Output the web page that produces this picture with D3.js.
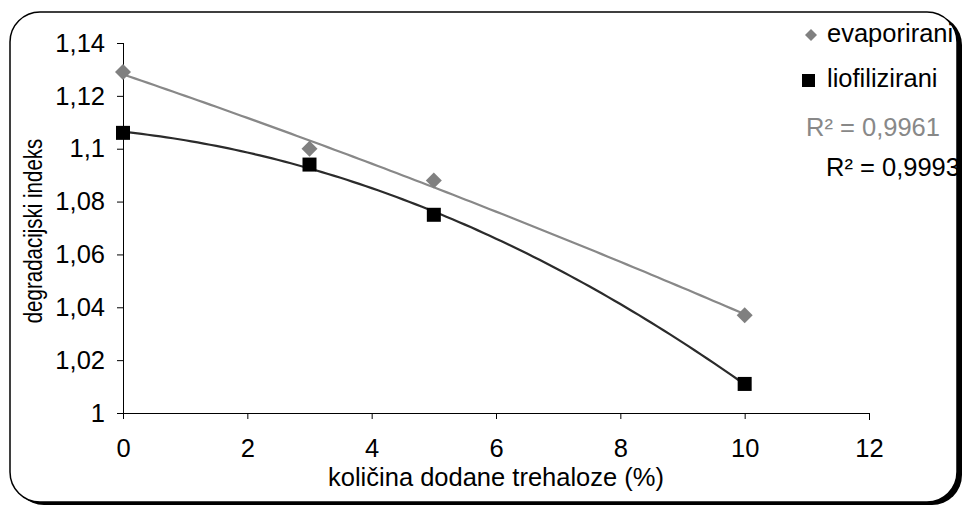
<!DOCTYPE html>
<html><head><meta charset="utf-8">
<script src="https://cdn.jsdelivr.net/npm/d3@7"></script>
<style>body{margin:0;background:#fff}svg{display:block;font-family:"Liberation Sans",Arial,sans-serif}</style>
</head><body>
<svg id="c" width="965" height="506"></svg>
<script>
const xValues = [0, 3, 5, 10];
const evaporirani = [1.129, 1.100, 1.088, 1.037];
const liofilizirani = [1.106, 1.094, 1.075, 1.011];
const xTicks = [0, 2, 4, 6, 8, 10, 12];
const yTicks = [1, 1.02, 1.04, 1.06, 1.08, 1.1, 1.12, 1.14];
const seriesNames = ["evaporirani", "liofilizirani"];
const r2Labels = ["R\u00B2 = 0,9961", "R\u00B2 = 0,9993"];

const FS = 25.5;
const svg = d3.select("#c");
// frame with shadow
svg.append("rect").attr("x",14).attr("y",15).attr("width",948).attr("height",490).attr("rx",30).attr("fill","#000");
svg.append("rect").attr("x",10).attr("y",12).attr("width",947).attr("height",490).attr("rx",30)
  .attr("fill","#fff").attr("stroke","#000").attr("stroke-width",1.5);

const x = d3.scaleLinear().domain([0,12]).range([123,869]);
const y = d3.scaleLinear().domain([1,1.14]).range([413,43]);
const fmt = d => String(+d.toFixed(2)).replace(".", ",");

const gx = svg.append("g").attr("transform","translate(0,413)")
  .call(d3.axisBottom(x).tickValues(xTicks).tickSize(6).tickSizeOuter(6).tickPadding(20).tickFormat(d=>d));
const gy = svg.append("g").attr("transform","translate(123,0)")
  .call(d3.axisLeft(y).tickValues(yTicks).tickSize(6).tickSizeOuter(0).tickPadding(12).tickFormat(fmt));
[gx,gy].forEach(g=>{
  g.attr("font-size",FS).attr("font-family",null);
  g.selectAll("path,line").attr("stroke","#000").attr("stroke-width",1);
  g.selectAll("text").attr("fill","#000");
});
gy.select(".domain").attr("d","M0.5,43V413.5");
gx.select(".domain").attr("d","M117,0.5H869.5V7");

svg.append("text").attr("x",496).attr("y",486).attr("text-anchor","middle").attr("font-size",FS)
  .text("količina dodane trehaloze (%)");
svg.append("text").attr("transform","translate(42,231) rotate(-90) scale(0.82,1)").attr("text-anchor","middle")
  .attr("font-size",25).text("degradacijski indeks");

// quadratic least squares trendline
function quadFit(xs, ys){
  let S=[0,0,0,0,0], T=[0,0,0];
  xs.forEach((xv,i)=>{ for(let k=0;k<5;k++) S[k]+=Math.pow(xv,k); for(let k=0;k<3;k++) T[k]+=ys[i]*Math.pow(xv,k); });
  const A=[[S[0],S[1],S[2],T[0]],[S[1],S[2],S[3],T[1]],[S[2],S[3],S[4],T[2]]];
  for(let i=0;i<3;i++){ for(let j=i+1;j<3;j++){ const f=A[j][i]/A[i][i]; for(let k=i;k<4;k++) A[j][k]-=f*A[i][k]; } }
  const c=[0,0,0];
  for(let i=2;i>=0;i--){ let s=A[i][3]; for(let k=i+1;k<3;k++) s-=A[i][k]*c[k]; c[i]=s/A[i][i]; }
  return xv=>c[0]+c[1]*xv+c[2]*xv*xv;
}
const samples = d3.range(0,10.001,0.1);
const line = d3.line().x(d=>x(d[0])).y(d=>y(d[1]));
const colors = ["#808080","#000000"];
const lineColors = ["#888888","#2b2b2b"];
[evaporirani, liofilizirani].forEach((vals,si)=>{
  const f = quadFit(xValues, vals);
  svg.append("path").attr("d", line(samples.map(s=>[s,f(s)]))).attr("fill","none")
    .attr("stroke",lineColors[si]).attr("stroke-width",2.2);
});
// markers
const diamond = d3.symbol().type(d3.symbolSquare).size(128);
svg.append("g").selectAll("path").data(xValues).join("path")
  .attr("transform",(d,i)=>`translate(${x(d)},${y(evaporirani[i])}) rotate(45)`)
  .attr("d",diamond()).attr("fill",colors[0]);
svg.append("g").selectAll("rect").data(xValues).join("rect")
  .attr("x",d=>x(d)-7).attr("y",(d,i)=>y(liofilizirani[i])-7).attr("width",14).attr("height",14).attr("fill",colors[1]);

// legend
const lg = svg.append("g");
lg.append("path").attr("transform","translate(811,35) rotate(45)").attr("d",d3.symbol().type(d3.symbolSquare).size(72)()).attr("fill",colors[0]);
lg.append("rect").attr("x",802).attr("y",74).attr("width",13).attr("height",13).attr("fill",colors[1]);
lg.append("text").attr("x",827).attr("y",42).attr("font-size",FS).text(seriesNames[0]);
lg.append("text").attr("x",827).attr("y",87).attr("font-size",FS).text(seriesNames[1]);
lg.append("text").attr("x",806).attr("y",136).attr("font-size",FS).attr("fill","#888").text(r2Labels[0]);
lg.append("text").attr("x",826).attr("y",176).attr("font-size",FS).attr("fill","#000").text(r2Labels[1]);
</script>
</body></html>
